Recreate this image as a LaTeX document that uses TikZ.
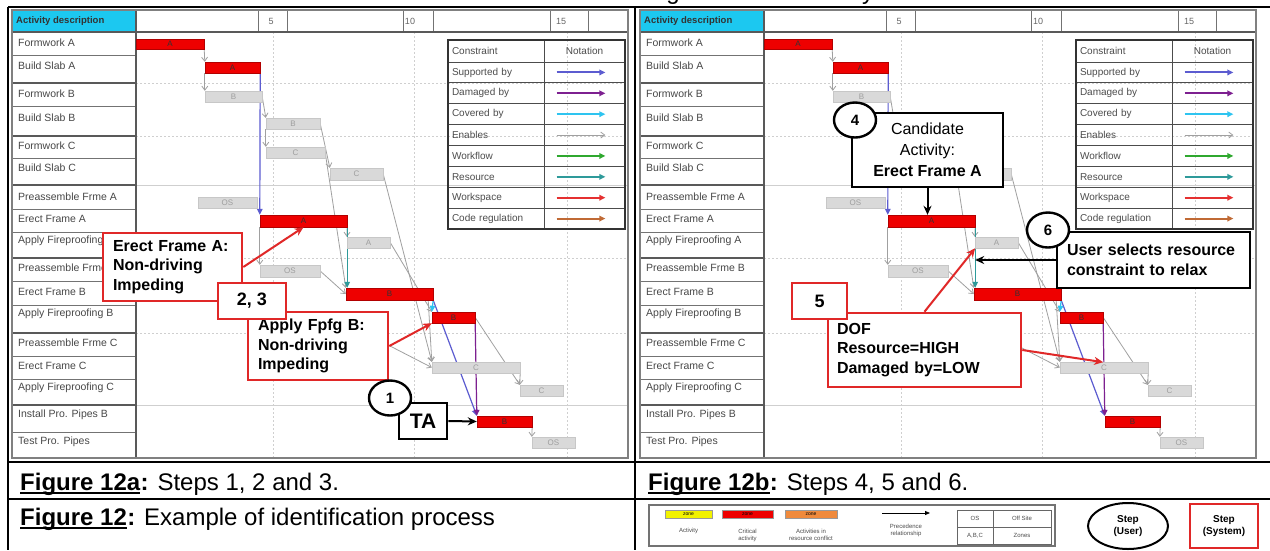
\documentclass[tikz,border=0pt]{standalone}
\usepackage{fontspec}
\setmainfont{Liberation Sans}
\usetikzlibrary{arrows.meta,shapes.geometric}
\pgfdeclarelayer{bg}
\pgfsetlayers{bg,main}
\definecolor{barred}{HTML}{EE0000}
\definecolor{bargray}{HTML}{D9D9D9}
\definecolor{actcyan}{HTML}{1CC8F0}
\definecolor{csupp}{HTML}{5C5CD0}
\definecolor{cdama}{HTML}{7D2090}
\definecolor{ccov}{HTML}{2EC4F0}
\definecolor{cenab}{HTML}{A0A0A0}
\definecolor{cwork}{HTML}{2FA82F}
\definecolor{cres}{HTML}{2E9A9A}
\definecolor{cspace}{HTML}{E53030}
\definecolor{ccode}{HTML}{C06A35}
\definecolor{callred}{HTML}{E02828}
\definecolor{gridc}{HTML}{CFCFCF}
\definecolor{framec}{HTML}{808080}
\definecolor{yzone}{HTML}{F2F200}
\definecolor{ozone}{HTML}{F08A3C}
\tikzset{
  lbl/.style={anchor=west, inner sep=0pt, font=\fontsize{10.5}{11}\selectfont, text=black!72},
  barbase/.style={inner sep=0pt, line width=0.4pt, font=\fontsize{8}{8}\selectfont},
  redbar/.style={barbase, fill=barred, draw=barred!75!black, text=black!80},
  graybar/.style={barbase, fill=bargray, draw=black!22, text=black!38},
  enab/.style={draw=cenab, line width=0.8pt, -{Straight Barb[length=4pt,width=6pt]}},
  conn/.style={line width=1.2pt, -{Triangle[length=6pt,width=5.5pt]}},
  supp/.style={conn, draw=csupp},
  dama/.style={conn, draw=cdama},
  cove/.style={conn, draw=ccov},
  wflow/.style={conn, draw=cwork},
  reso/.style={conn, draw=cres},
  wspace/.style={conn, draw=cspace},
  codereg/.style={conn, draw=ccode},
  gridv/.style={draw=gridc, line width=0.6pt, dash pattern=on 2pt off 2pt},
  gridh/.style={draw=gridc, line width=0.6pt},
  cellline/.style={draw=black!55, line width=0.6pt},
  groupline/.style={draw=black!65, line width=2pt},
  tcellL/.style={draw=black!70, line width=0.8pt, inner ysep=0pt, inner xsep=4pt, text width=88pt, align=left, minimum height=20.875pt, font=\fontsize{10}{10}\selectfont, text=black!70},
  tcellR/.style={draw=black!70, line width=0.8pt, inner sep=0pt, minimum width=81pt, minimum height=20.875pt},
  redcall/.style={draw=callred, line width=2.6pt, fill=white, inner sep=0pt, font=\bfseries\fontsize{16}{19.5}\selectfont, align=left},
  blackcall/.style={draw=black, line width=2.6pt, fill=white, inner sep=0pt, font=\bfseries\fontsize{16}{19.5}\selectfont},
  stepcirc/.style={ellipse, draw=black, line width=2.4pt, fill=white, inner sep=0pt, minimum width=42pt, minimum height=35pt, font=\bfseries\fontsize{15}{15}\selectfont},
  redarrow/.style={draw=callred, line width=2pt, -{Stealth[length=9pt,width=8pt]}},
  blackarrow/.style={draw=black, line width=2pt, -{Stealth[length=9pt,width=8pt]}},
  frameline/.style={draw=black, line width=2pt},
  tinytxt/.style={inner sep=0pt, font=\fontsize{6}{7}\selectfont, text=black!70, align=center},
}
\newcommand\ganttbar[7]{\node[#1,minimum width={#5-#4},minimum height={#7-#6}] (#2) at ({(#4+#5)/2},{(#6+#7)/2}) {#3};}
\newcommand\legrow[5]{%
  \node[tcellL] (#1c#2) at (496,#3) {#4};
  \node[tcellR] (#1n#2) at (584.5,#3) {};
  \draw[#5] ([xshift=13pt]#1n#2.west) -- ([xshift=-20pt]#1n#2.east);}
% #1 name prefix, #2 label of Build Slab B bar, #3 label of Formwork C bar
\newcommand\ganttpanel[3]{%
  \begin{pgfonlayer}{bg}
    \foreach \gx in {273,414,567} \draw[gridv] (\gx,32) -- (\gx,458);
    \foreach \gy in {83,136,258,333} \draw[gridv] (136,\gy) -- (628,\gy);
    \foreach \gy in {185,405} \draw[gridh] (136,\gy) -- (628,\gy);
  \end{pgfonlayer}
  \fill[actcyan] (12,10) rectangle (136,32);
  \node[font=\bfseries\fontsize{9.5}{10}\selectfont, text=black!80, anchor=west, inner sep=0pt] (#1hdr) at (16,21) {Activity description};
  \foreach \gx in {258,287,403,433,550,588} \draw[cellline] (\gx,10) -- (\gx,32);
  \node[font=\fontsize{9}{9}\selectfont, text=black!60, inner sep=0pt] (#1t5) at (271,21) {5};
  \node[font=\fontsize{9}{9}\selectfont, text=black!60, inner sep=0pt] (#1t10) at (410,21) {10};
  \node[font=\fontsize{9}{9}\selectfont, text=black!60, inner sep=0pt] (#1t15) at (561,21) {15};
  \foreach \gy in {55,106,158,209,232,281,305,356,379,432} \draw[cellline] (12,\gy) -- (136,\gy);
  \foreach \gy in {83,136,185,258,333,405} \draw[groupline] (12,\gy) -- (136,\gy);
  \draw[groupline] (12,32) -- (628,32);
  \draw[groupline] (136,10) -- (136,458);
  \draw[draw=framec, line width=2pt] (12,10) rectangle (628,458);
  \node[lbl] (#1l1) at (18,43) {Formwork A};
  \node[lbl] (#1l2) at (18,66) {Build Slab A};
  \node[lbl] (#1l3) at (18,94) {Formwork B};
  \node[lbl] (#1l4) at (18,118) {Build Slab B};
  \node[lbl] (#1l5) at (18,146) {Formwork C};
  \node[lbl] (#1l6) at (18,168) {Build Slab C};
  \node[lbl] (#1l7) at (18,197) {Preassemble Frme A};
  \node[lbl] (#1l8) at (18,219) {Erect Frame A};
  \node[lbl] (#1l9) at (18,241) {Apply Fireproofing A};
  \node[lbl] (#1l10) at (18,268) {Preassemble Frme B};
  \node[lbl] (#1l11) at (18,292) {Erect Frame B};
  \node[lbl] (#1l12) at (18,314) {Apply Fireproofing B};
  \node[lbl] (#1l13) at (18,343) {Preassemble Frme C};
  \node[lbl] (#1l14) at (18,366) {Erect Frame C};
  \node[lbl] (#1l15) at (18,388) {Apply Fireproofing C};
  \node[lbl] (#1l16) at (18,415) {Install Pro. Pipes B};
  \node[lbl] (#1l17) at (18,442) {Test Pro. Pipes};
  \ganttbar{redbar}{#1fa}{A}{136}{204}{39}{49}
  \ganttbar{redbar}{#1sa}{A}{205}{260}{62}{73}
  \ganttbar{graybar}{#1fb}{B}{205}{262}{91}{102}
  \ganttbar{graybar}{#1sb}{#2}{266}{320}{118}{129}
  \ganttbar{graybar}{#1fc}{#3}{266}{325}{147}{158}
  \ganttbar{graybar}{#1sc}{C}{330}{383}{168}{180}
  \ganttbar{graybar}{#1pa}{OS}{198}{257}{197}{208}
  \ganttbar{redbar}{#1ea}{A}{260}{347}{215}{227}
  \ganttbar{graybar}{#1aa}{A}{347}{390}{237}{248}
  \ganttbar{graybar}{#1pb}{OS}{260}{320}{265}{277}
  \ganttbar{redbar}{#1eb}{B}{346}{433}{288}{300}
  \ganttbar{redbar}{#1ab}{B}{432}{475}{312}{323}
  \ganttbar{graybar}{#1pc}{}{330}{385}{338}{349}
  \ganttbar{graybar}{#1ec}{C}{432}{520}{362}{373}
  \ganttbar{graybar}{#1fpc}{C}{520}{563}{385}{396}
  \ganttbar{redbar}{#1ib}{B}{477}{532}{416}{427}
  \ganttbar{graybar}{#1tp}{OS}{532}{575}{437}{448}
  \begin{pgfonlayer}{bg}
    \draw[enab] (#1fa.south east) -- (#1sa.north west);
    \draw[enab] (#1sa.south west) -- (#1fb.north west);
    \draw[enab] (#1fb.east) -- (#1sb.north west);
    \draw[enab] (#1sb.south west) -- (#1fc.north west);
    \draw[enab] (#1sb.east) -- (#1sc.north west);
    \draw[enab] (#1fc.east) -- (#1eb.north west);
    \draw[enab] (#1sc.east) -- (#1ec.north west);
    \draw[enab] (#1aa.east) -- (#1ab.north west);
    \draw[enab] (#1ea.south east) -- (#1aa.north west);
    \draw[enab] (#1ea.south west) -- (#1pb.north west);
    \draw[enab] (#1pb.east) -- (#1eb.west);
    \draw[enab] ([xshift=-5pt]#1eb.south east) -- (#1ec.north west);
    \draw[enab] (#1pc.east) -- (#1ec.west);
    \draw[enab] (#1ab.east) -- (#1fpc.north west);
    \draw[enab] (#1ec.south east) -- (#1fpc.north west);
    \draw[enab] (#1ib.south east) -- (#1tp.north west);
    \draw[supp] (#1sa.south east) -- (#1ea.north west);
    \draw[reso] (#1ea.south east) -- (#1eb.north east -| #1ea.south east);
    \draw[supp] (#1eb.south east) -- (#1ib.north west);
    \draw[cove] (#1eb.south east) -- (#1ab.north west);
    \draw[dama] (#1ab.south east) -- (#1ib.north west);
  \end{pgfonlayer}
  \node[tcellL, minimum height=22pt] (#1ch) at (496,51) {Constraint};
  \node[tcellR, minimum height=22pt, font=\fontsize{10}{10}\selectfont, text=black!70] (#1nh) at (584.5,51) {Notation};
  \legrow{#1}{1}{72.44}{Supported by}{supp,line width=2pt}
  \legrow{#1}{2}{93.31}{Damaged by}{dama,line width=2pt}
  \legrow{#1}{3}{114.19}{Covered by}{cove,line width=2pt}
  \legrow{#1}{4}{135.06}{Enables}{enab}
  \legrow{#1}{5}{155.94}{Workflow}{wflow,line width=2pt}
  \legrow{#1}{6}{176.81}{Resource}{reso,line width=2pt}
  \legrow{#1}{7}{197.69}{Workspace}{wspace,line width=2pt}
  \legrow{#1}{8}{218.56}{Code regulation}{codereg,line width=2pt}
  \draw[black!80, line width=1.8pt] (448,40) rectangle (625,229);
}
\begin{document}
\begin{tikzpicture}[x=1pt,y=-1pt]
\useasboundingbox (0,0) rectangle (1270,550);
\begin{pgfonlayer}{bg}
  \fill[white] (0,0) rectangle (1270,550);
\end{pgfonlayer}
% cut-off text above
\begin{scope}
  \clip (0,0) rectangle (1270,6);
  \node[anchor=base, inner sep=0pt, font=\fontsize{24}{24}\selectfont] (topg) at (673,-1) {g};
  \node[anchor=base, inner sep=0pt, font=\fontsize{24}{24}\selectfont] (topy) at (868,-1) {y};
\end{scope}
% panels
\ganttpanel{L-}{B}{C}
\begin{scope}[xshift=628pt]
  \ganttpanel{R-}{}{}
\end{scope}
% frame lines
\draw[frameline] (8,7) -- (1270,7);
\draw[frameline] (8,7) -- (8,550);
\draw[frameline] (635,7) -- (635,550);
\draw[frameline] (8,462) -- (1270,462);
\draw[frameline] (8,499) -- (1270,499);
% ---- left callouts
\node[redcall, minimum width=139pt, minimum height=68pt, text width=119pt] (boxEA) at (172.5,267) {Erect Frame A:\\Non-driving\\Impeding};
\draw[redarrow] (boxEA.east) -- (L-ea.south);
\node[redcall, minimum width=140pt, minimum height=68pt, text width=120pt] (boxAB) at (318,346) {Apply Fpfg B:\\Non-driving\\Impeding};
\draw[redarrow] (boxAB.east) -- (L-ab.south west);
\node[redcall, minimum width=68pt, minimum height=36pt, align=center, font=\bfseries\fontsize{18}{18}\selectfont] (box23) at (252,301) {2, 3};
\node[blackcall, minimum width=48pt, minimum height=36pt, font=\bfseries\fontsize{21}{21}\selectfont] (boxTA) at (423,421) {TA};
\draw[blackarrow] (boxTA.east) -- (L-ib.west);
\node[stepcirc] (c1) at (390,398) {1};
% ---- right callouts
\node[blackcall, minimum width=151pt, minimum height=74pt, align=center, font=\fontsize{16}{21}\selectfont] (boxCand) at (927.5,150) {Candidate\\Activity:\\\textbf{Erect Frame A}};
\draw[blackarrow] (boxCand.south) -- (boxCand.south |- R-ea.north);
\node[stepcirc] (c4) at (855,120) {4};
\node[blackcall, minimum width=193pt, minimum height=56pt, text width=173pt, align=left] (boxUser) at (1153.5,260) {User selects resource\\constraint to relax};
\coordinate (relaxpt) at (R-ea.south east |- boxUser.west);
\draw[blackarrow] (boxUser.west) -- (relaxpt);
\node[stepcirc] (c6) at (1048,230) {6};
\node[redcall, minimum width=193pt, minimum height=74pt, text width=175pt] (boxDOF) at (924.5,350) {DOF\\Resource=HIGH\\Damaged by=LOW};
\coordinate (dofres) at ([yshift=-21pt]R-ea.south east);
\coordinate (dofdam) at ([yshift=-39pt]R-ab.south east);
\draw[redarrow] (boxDOF.north) -- (dofres);
\draw[redarrow] (boxDOF.east) -- (dofdam);
\node[redcall, minimum width=55pt, minimum height=36pt, align=center, font=\bfseries\fontsize{18}{18}\selectfont] (box5) at (819.5,301) {5};
% ---- captions
\node[anchor=base west, inner sep=0pt, font=\bfseries\fontsize{24}{24}\selectfont] (capaT) at (20,490) {Figure 12a};
\draw[line width=1.8pt] ([yshift=-3pt]capaT.base west) -- ([yshift=-3pt]capaT.base east);
\node[anchor=base west, inner sep=0pt, font=\fontsize{24}{24}\selectfont] (capaR) at (capaT.base east) {\textbf{:} Steps 1, 2 and 3.};
\node[anchor=base west, inner sep=0pt, font=\bfseries\fontsize{24}{24}\selectfont] (capbT) at (648,490) {Figure 12b};
\draw[line width=1.8pt] ([yshift=-3pt]capbT.base west) -- ([yshift=-3pt]capbT.base east);
\node[anchor=base west, inner sep=0pt, font=\fontsize{24}{24}\selectfont] (capbR) at (capbT.base east) {\textbf{:} Steps 4, 5 and 6.};
\node[anchor=base west, inner sep=0pt, font=\bfseries\fontsize{24}{24}\selectfont] (capT) at (20,525) {Figure 12};
\draw[line width=1.8pt] ([yshift=-3pt]capT.base west) -- ([yshift=-3pt]capT.base east);
\node[anchor=base west, inner sep=0pt, font=\fontsize{24}{24}\selectfont] (capR) at (capT.base east) {\textbf{:} Example of identification process};
% ---- bottom legend
\node[draw=black!55, line width=1.5pt, minimum width=406pt, minimum height=41pt, inner sep=0pt] (lgbox) at (852,525.5) {};
\node[fill=yzone, draw=black!40, line width=0.4pt, minimum width=47pt, minimum height=8pt, inner sep=0pt, font=\fontsize{5}{5}\selectfont] (lgy) at (688.5,514) {zone};
\node[fill=barred, draw=black!40, line width=0.4pt, minimum width=51pt, minimum height=8pt, inner sep=0pt, font=\fontsize{5}{5}\selectfont] (lgr) at (747.5,514) {zone};
\node[fill=ozone, draw=black!40, line width=0.4pt, minimum width=52pt, minimum height=8pt, inner sep=0pt, font=\fontsize{5}{5}\selectfont] (lgo) at (811,514) {zone};
\node[tinytxt] (lgyt) at (688.5,531) {Activity};
\node[tinytxt] (lgrt) at (747.5,535) {Critical\\activity};
\node[tinytxt] (lgot) at (811,535) {Activities in\\resource conflict};
\coordinate (lgas) at (882,513);
\coordinate (lgae) at (930,513);
\draw[black, line width=0.8pt, -{Triangle[length=5pt,width=4pt]}] (lgas) -- (lgae);
\node[tinytxt] (lgat) at (906,530) {Precedence\\relationship};
\node[draw=black!60, line width=0.6pt, minimum width=36pt, minimum height=17pt, inner sep=0pt, font=\fontsize{6}{6}\selectfont, text=black!70] (lgt1) at (975,518.5) {OS};
\node[draw=black!60, line width=0.6pt, minimum width=58pt, minimum height=17pt, inner sep=0pt, font=\fontsize{6}{6}\selectfont, text=black!70] (lgt2) at (1022,518.5) {Off Site};
\node[draw=black!60, line width=0.6pt, minimum width=36pt, minimum height=17pt, inner sep=0pt, font=\fontsize{6}{6}\selectfont, text=black!70] (lgt3) at (975,535.5) {A,B,C};
\node[draw=black!60, line width=0.6pt, minimum width=58pt, minimum height=17pt, inner sep=0pt, font=\fontsize{6}{6}\selectfont, text=black!70] (lgt4) at (1022,535.5) {Zones};
\node[ellipse, draw=black, line width=2pt, minimum width=80pt, minimum height=46pt, inner sep=0pt, align=center, font=\bfseries\fontsize{10}{12}\selectfont] (stepU) at (1128,526) {Step\\(User)};
\node[draw=callred, line width=2.5pt, minimum width=68pt, minimum height=44pt, inner sep=0pt, align=center, font=\bfseries\fontsize{10}{12}\selectfont] (stepS) at (1224,526) {Step\\(System)};
\end{tikzpicture}
\end{document}
